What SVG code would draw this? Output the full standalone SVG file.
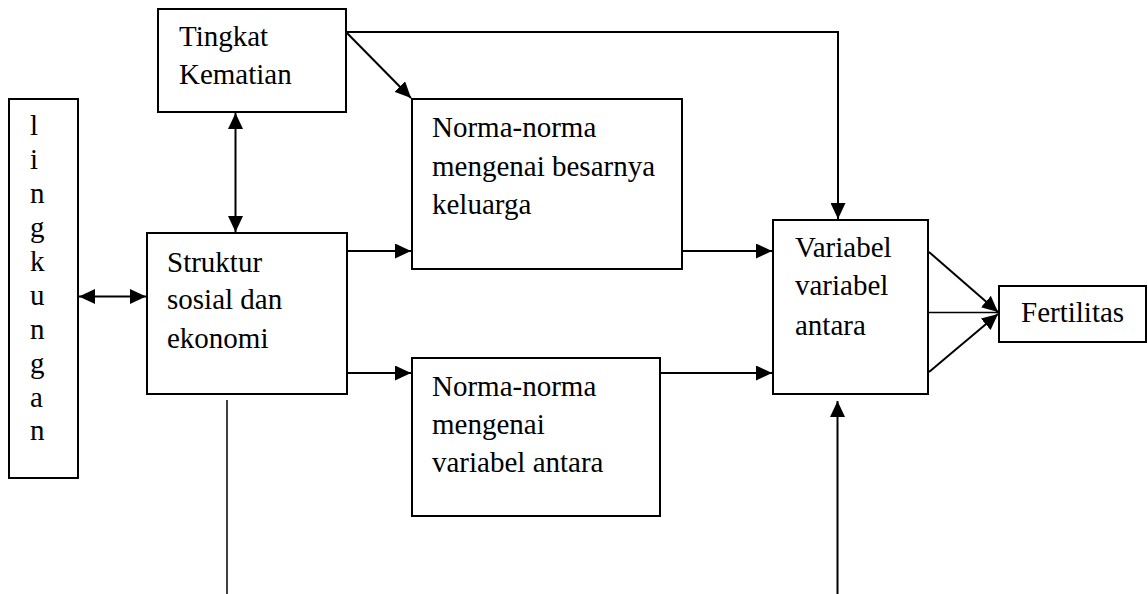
<svg xmlns="http://www.w3.org/2000/svg" width="1148" height="594" viewBox="0 0 1148 594">
<style>
.box{fill:#fff;stroke:#000;stroke-width:2}
.t{font-size:29px;fill:#000}
.c{fill:none;stroke:#000;stroke-width:2}
.thin{fill:none;stroke:#000;stroke-width:1.5}
</style>
<defs>
<marker id="ah" markerUnits="userSpaceOnUse" markerWidth="17" markerHeight="15" refX="16" refY="7.5" orient="auto-start-reverse" viewBox="0 0 17 15">
<path d="M0,0 L16,7.5 L0,15 z" fill="#000"/>
</marker>
</defs>
<rect width="1148" height="594" fill="#fff"/>
<g id="connectors">
<path class="c" d="M346,32 H838 V219" marker-end="url(#ah)"/>
<path class="c" d="M347,33 L411,98" marker-end="url(#ah)"/>
<path class="c" d="M235.5,113 V232" marker-start="url(#ah)" marker-end="url(#ah)"/>
<path class="c" d="M79,296.5 H146" marker-start="url(#ah)" marker-end="url(#ah)"/>
<path class="c" d="M347,251 H411" marker-end="url(#ah)"/>
<path class="c" d="M347,373 H411" marker-end="url(#ah)"/>
<path class="c" d="M682,251 H772" marker-end="url(#ah)"/>
<path class="c" d="M660,373 H772" marker-end="url(#ah)"/>
<path class="c" d="M929,252 L998,312" marker-end="url(#ah)"/>
<path class="thin" d="M929,312.5 H998"/>
<path class="c" d="M929,372 L998,314" marker-end="url(#ah)"/>
<path class="thin" d="M227,400 V594"/>
<path class="c" d="M837.5,594 V401" marker-end="url(#ah)"/>
</g>
<g font-family="'Liberation Serif', 'Times New Roman', Tinos, 'DejaVu Serif', serif">
<g id="tingkat">
<rect class="box" x="158" y="9" width="188" height="103"/>
<text class="t" x="179" y="46">Tingkat</text>
<text class="t" x="179" y="84">Kematian</text>
</g>
<g id="lingkungan">
<rect class="box" x="9" y="99" width="69" height="379"/>
<text class="t" x="30" y="135">l</text>
<text class="t" x="30" y="169">i</text>
<text class="t" x="30" y="203">n</text>
<text class="t" x="30" y="237">g</text>
<text class="t" x="30" y="271">k</text>
<text class="t" x="30" y="305">u</text>
<text class="t" x="30" y="339">n</text>
<text class="t" x="30" y="373">g</text>
<text class="t" x="30" y="407">a</text>
<text class="t" x="30" y="440">n</text>
</g>
<g id="struktur">
<rect class="box" x="147" y="233" width="200" height="161"/>
<text class="t" x="167" y="272">Struktur</text>
<text class="t" x="167" y="309">sosial dan</text>
<text class="t" x="167" y="348">ekonomi</text>
</g>
<g id="norma1">
<rect class="box" x="412" y="99" width="270" height="170"/>
<text class="t" x="432" y="137">Norma-norma</text>
<text class="t" x="432" y="176">mengenai besarnya</text>
<text class="t" x="432" y="214">keluarga</text>
</g>
<g id="norma2">
<rect class="box" x="412" y="358" width="248" height="158"/>
<text class="t" x="432" y="396">Norma-norma</text>
<text class="t" x="432" y="434">mengenai</text>
<text class="t" x="432" y="472">variabel antara</text>
</g>
<g id="variabel">
<rect class="box" x="773" y="220" width="155" height="174"/>
<text class="t" x="795" y="257">Variabel</text>
<text class="t" x="795" y="295">variabel</text>
<text class="t" x="795" y="335">antara</text>
</g>
<g id="fertilitas">
<rect class="box" x="999" y="286" width="147" height="56"/>
<text class="t" x="1021" y="322">Fertilitas</text>
</g>
</g>
</svg>
